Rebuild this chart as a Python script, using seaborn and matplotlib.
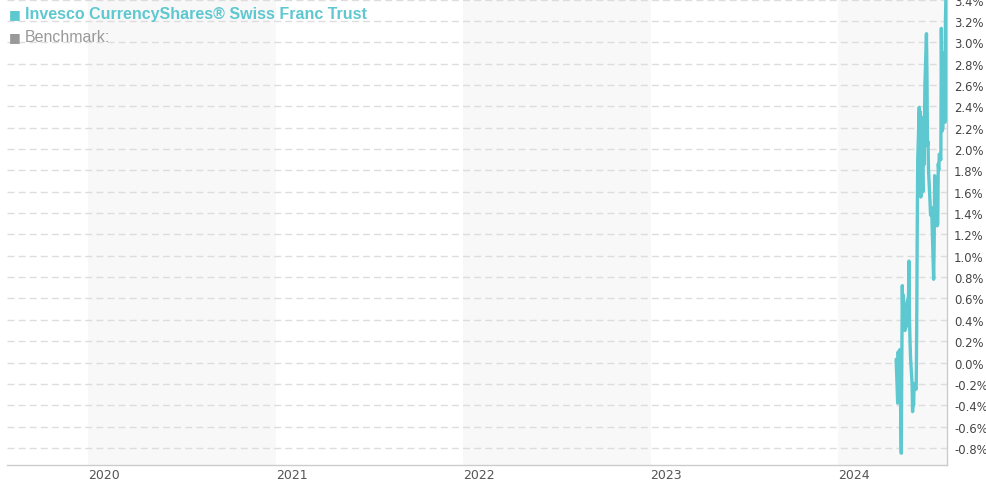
import matplotlib
matplotlib.use("Agg")
import matplotlib.pyplot as plt
import seaborn as sns
import pandas as pd

# Fund return (%)
dates = [
    "2024-04-23", "2024-04-26", "2024-04-27", "2024-04-28", "2024-04-29", "2024-04-30",
    "2024-05-03", "2024-05-04", "2024-05-05", "2024-05-06", "2024-05-07", "2024-05-10",
    "2024-05-11", "2024-05-12", "2024-05-13", "2024-05-14", "2024-05-17", "2024-05-18",
    "2024-05-19", "2024-05-20", "2024-05-21", "2024-05-24", "2024-05-25", "2024-05-26",
    "2024-05-27", "2024-05-28", "2024-06-01", "2024-06-02", "2024-06-03", "2024-06-04",
    "2024-06-07", "2024-06-08", "2024-06-09", "2024-06-10", "2024-06-11", "2024-06-14",
    "2024-06-15", "2024-06-16", "2024-06-17", "2024-06-18", "2024-06-21", "2024-06-22",
    "2024-06-23", "2024-06-24", "2024-06-25", "2024-06-28", "2024-06-29", "2024-06-30",
    "2024-07-01", "2024-07-02", "2024-07-05", "2024-07-06", "2024-07-07", "2024-07-09",
    "2024-07-12", "2024-07-13", "2024-07-14", "2024-07-15", "2024-07-16", "2024-07-19",
    "2024-07-20", "2024-07-21", "2024-07-22", "2024-07-23", "2024-07-26", "2024-07-27",
    "2024-07-28", "2024-07-29", "2024-07-30",
]
fund_returns = [
    0.03, -0.38, 0.10, -0.10, -0.36, 0.12,
    -0.85, 0.00, 0.72, 0.40, 0.63, 0.30,
    0.45, 0.33, 0.40, 0.55, 0.62, 0.95,
    0.40, 0.20, 0.05, -0.20, -0.46, -0.35,
    -0.40, -0.20, -0.25, 0.30, 1.20, 1.90,
    2.39, 1.80, 2.35, 1.55, 2.30, 1.60,
    2.10, 1.85, 2.20, 2.60, 3.08, 2.70,
    2.03, 2.07, 1.80, 1.50, 1.38, 1.40,
    1.45, 1.30, 0.78, 1.10, 1.75, 1.70,
    1.28, 1.30, 1.86, 1.80, 1.95, 1.90,
    3.13, 2.50, 2.17, 2.20, 2.90, 2.25,
    3.20, 3.45, 3.70,
]
years = [2020, 2021, 2022, 2023, 2024]
y_ticks = [-0.8, -0.6, -0.4, -0.2, 0.0, 0.2, 0.4, 0.6, 0.8, 1.0, 1.2, 1.4,
           1.6, 1.8, 2.0, 2.2, 2.4, 2.6, 2.8, 3.0, 3.2, 3.4]

df = pd.DataFrame({"date": pd.to_datetime(dates), "ret": fund_returns})

teal = "#5ec8d0"
sns.set_style("white")
plt.rcParams["font.family"] = ["DejaVu Sans"]

fig = plt.figure(figsize=(9.87, 4.85), dpi=100)
ax = fig.add_axes([7 / 987, 19 / 485, 940 / 987, 466 / 485])

# alternating year bands
for i, yr in enumerate(years):
    if i % 2 == 0:
        ax.axvspan(pd.Timestamp(f"{yr}-01-01"), pd.Timestamp(f"{yr + 1}-01-01"),
                   color="#f8f8f8", zorder=0, lw=0)

for v in y_ticks:
    ax.axhline(v, color="#dddddd", lw=1, ls=(0, (5, 3)), zorder=1)

sns.lineplot(data=df, x="date", y="ret", ax=ax, color=teal, lw=2.4, zorder=3)

ax.set_xlim(pd.Timestamp("2019-07-28"), pd.Timestamp("2024-07-31"))
ax.set_ylim(-0.96, 3.405)

ax.set_xticks([pd.Timestamp(f"{yr}-01-01") for yr in years])
ax.set_xticklabels([str(yr) for yr in years], ha="left", fontsize=9, color="#555555")
ax.tick_params(axis="x", length=0, pad=2)

ax.yaxis.tick_right()
ax.set_yticks(y_ticks)
ax.set_yticklabels([f"{v:.1f}%" for v in y_ticks], fontsize=8.4, color="#444444")
ax.tick_params(axis="y", length=0, pad=5)

ax.set_xlabel("")
ax.set_ylabel("")

for side in ["top", "left"]:
    ax.spines[side].set_visible(False)
for side in ["bottom", "right"]:
    ax.spines[side].set_color("#cccccc")
    ax.spines[side].set_linewidth(1)

# legend-like header
fig.text(9 / 987, 1 - 15 / 485, "■", fontsize=9, color=teal, va="center")
fig.text(25 / 987, 1 - 15 / 485, "Invesco CurrencyShares® Swiss Franc Trust",
         fontsize=11.5, fontweight="bold", color=teal, va="center", family="Liberation Sans")
fig.text(9 / 987, 1 - 38 / 485, "■", fontsize=9, color="#999999", va="center")
fig.text(25 / 987, 1 - 38 / 485, "Benchmark:", fontsize=11.5, color="#999999",
         va="center", family="Liberation Sans")

fig.savefig("out.png", dpi=100)
